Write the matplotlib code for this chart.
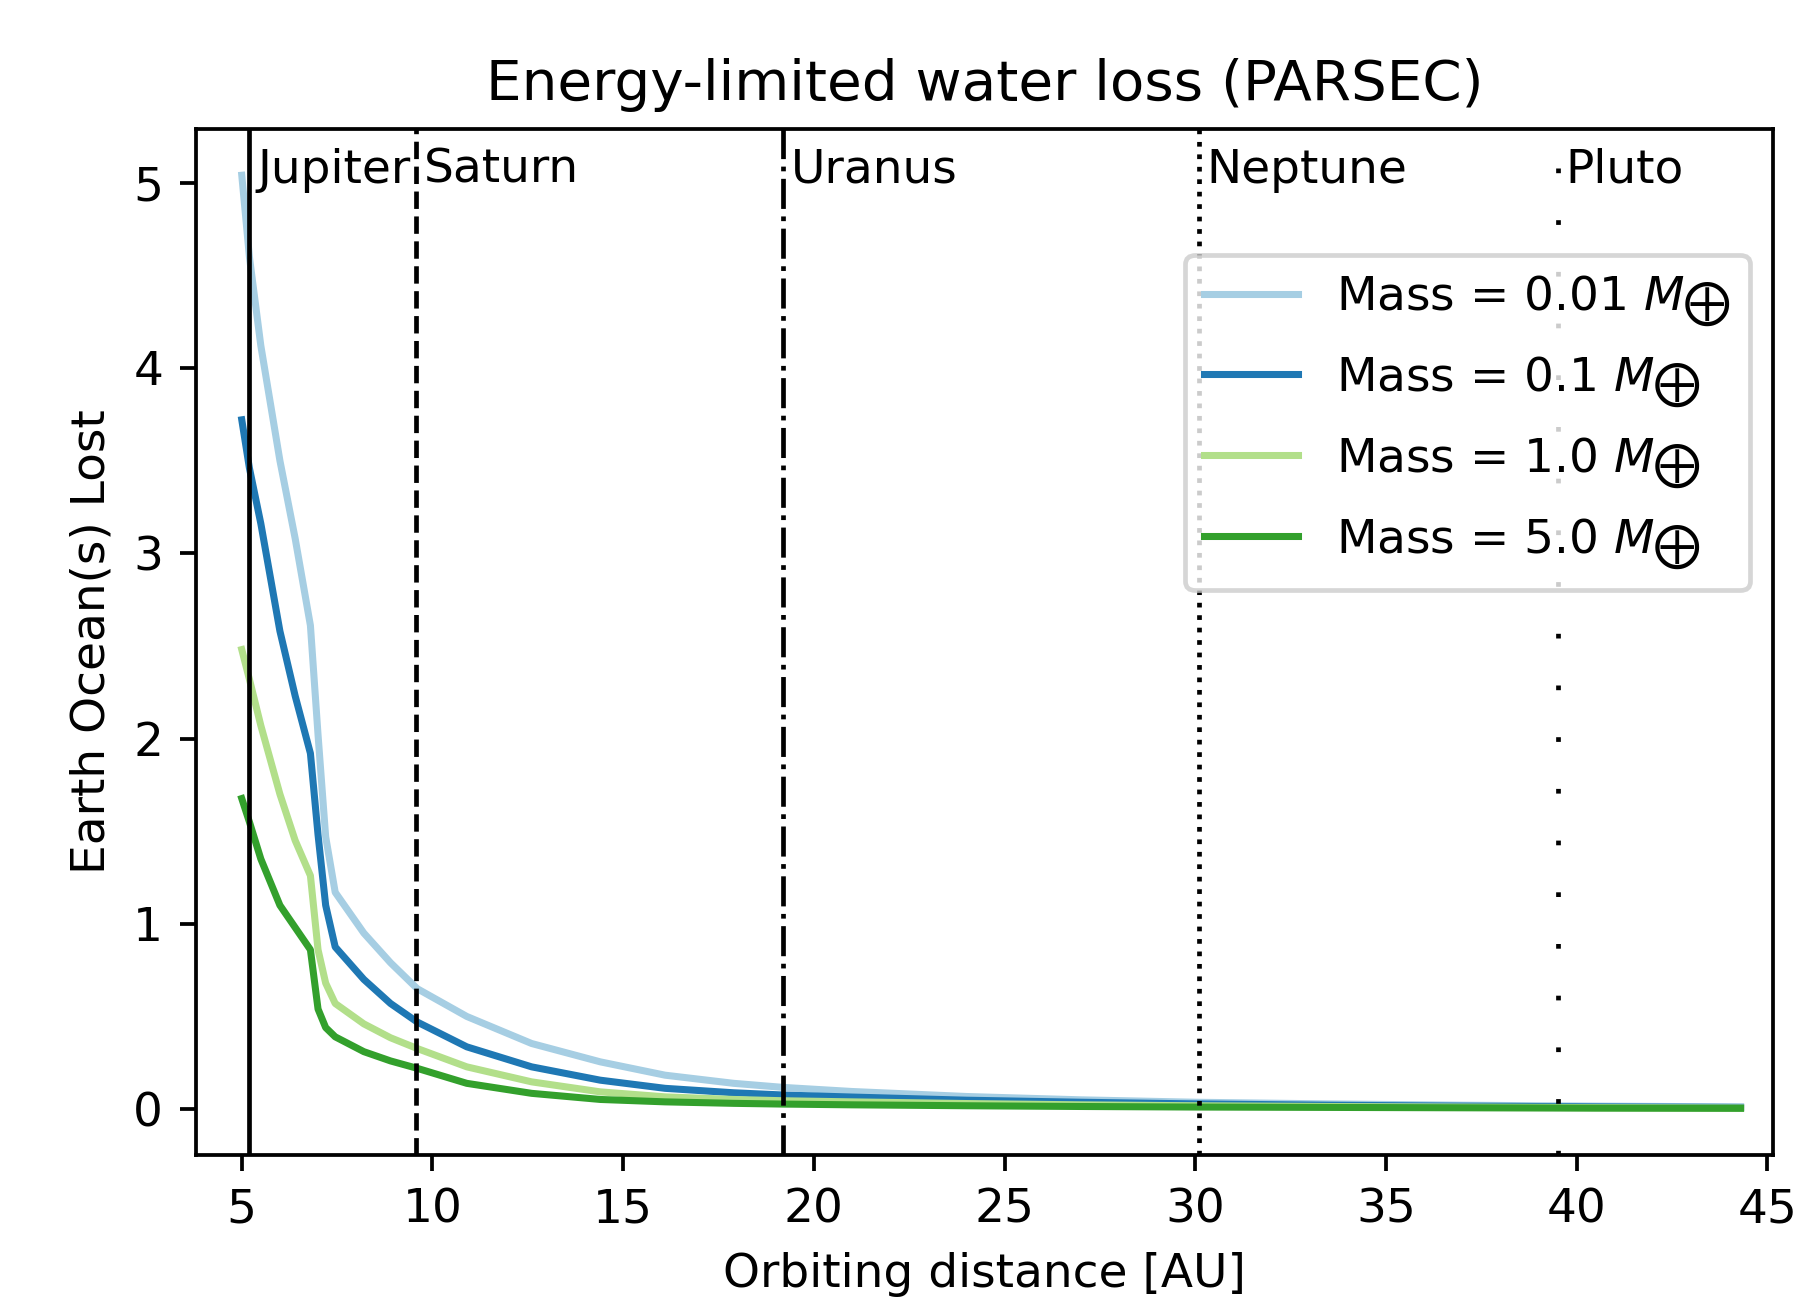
import matplotlib
matplotlib.use("Agg")
import matplotlib.pyplot as plt

# ---- data ----
distance_au = [5.0, 5.2, 5.5, 6.0, 6.4, 6.8, 7.0, 7.2, 7.45, 8.2, 8.9, 9.6,
               10.9, 12.6, 14.4, 16.1, 17.9, 19.2, 21.0, 24.0, 27.0, 30.0,
               33.5, 37.0, 40.5, 44.3]

loss_m001 = [5.04, 4.60, 4.12, 3.50, 3.08, 2.61, 2.02, 1.47, 1.17, 0.95, 0.79, 0.65,
             0.50, 0.354, 0.255, 0.183, 0.139, 0.117, 0.095, 0.068, 0.050, 0.037,
             0.028, 0.021, 0.016, 0.012]
loss_m01 = [3.72, 3.46, 3.16, 2.58, 2.23, 1.92, 1.48, 1.10, 0.875, 0.70, 0.57, 0.47,
            0.336, 0.228, 0.156, 0.112, 0.088, 0.076, 0.065, 0.048, 0.037, 0.028,
            0.021, 0.016, 0.012, 0.009]
loss_m1 = [2.48, 2.32, 2.07, 1.70, 1.45, 1.26, 0.86, 0.68, 0.57, 0.46, 0.385, 0.327,
           0.228, 0.147, 0.093, 0.066, 0.052, 0.045, 0.039, 0.030, 0.023, 0.018,
           0.014, 0.011, 0.008, 0.006]
loss_m5 = [1.676, 1.55, 1.35, 1.10, 0.98, 0.86, 0.54, 0.44, 0.39, 0.31, 0.26, 0.22,
           0.139, 0.085, 0.052, 0.039, 0.031, 0.027, 0.023, 0.018, 0.014, 0.011,
           0.009, 0.007, 0.005, 0.004]

mass_labels = ["0.01", "0.1", "1.0", "5.0"]
series = [loss_m001, loss_m01, loss_m1, loss_m5]
colors = ["#a6cee3", "#1f78b4", "#b2df8a", "#33a02c"]

planet_names = ["Jupiter", "Saturn", "Uranus", "Neptune", "Pluto"]
planet_dist = [5.2, 9.58, 19.2, 30.1, 39.5]
planet_styles = ["-", "--", "-.", ":", (0, (1, 10))]

# ---- figure ----
DPI = 338.4
fig = plt.figure(figsize=(1817 / DPI, 1297 / DPI), dpi=DPI)
ax = fig.add_axes([196 / 1817, 1 - 1155 / 1297, (1773 - 196) / 1817, (1155 - 128.6) / 1297])

for vals, lab, col in zip(series, mass_labels, colors):
    ax.plot(distance_au, vals, color=col, lw=1.5,
            label=r"Mass = " + lab + r" $M_\bigoplus$")

for name, d, ls in zip(planet_names, planet_dist, planet_styles):
    ax.axvline(d, color="black", linestyle=ls, lw=1.0)
    ax.text(d + 0.2, 5.0, name, fontsize=10)

ax.set_xlim(3.8, 45.15)
ax.set_xticks([5, 10, 15, 20, 25, 30, 35, 40, 45])
ax.set_yticks([0, 1, 2, 3, 4, 5])
ax.set_xlabel("Orbiting distance [AU]")
ax.set_ylabel("Earth Ocean(s) Lost")
ax.set_title("Energy-limited water loss (PARSEC)")
ax.legend(loc="upper right", bbox_to_anchor=(1.0, 0.9), labelspacing=0.55)

fig.savefig("out.png", dpi=DPI)
